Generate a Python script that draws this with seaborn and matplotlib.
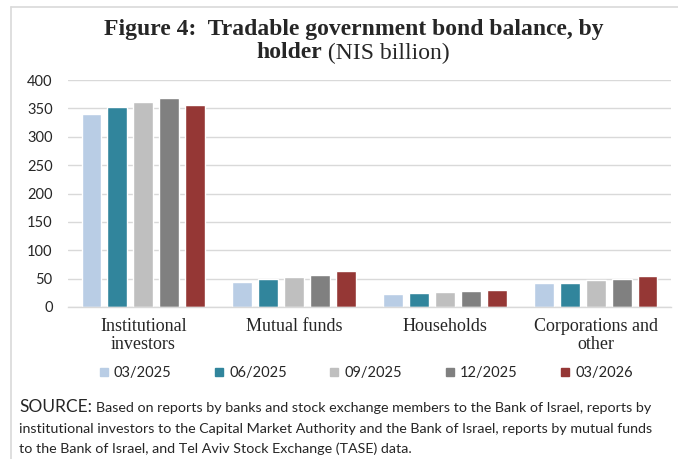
import matplotlib
matplotlib.use("Agg")
import matplotlib.pyplot as plt
import seaborn as sns
import pandas as pd
from matplotlib.lines import Line2D

categories = ["Institutional\ninvestors", "Mutual funds", "Households", "Corporations and\nother"]
periods = ["03/2025", "06/2025", "09/2025", "12/2025", "03/2026"]
v_0325 = [340, 44, 23.5, 41.5]
v_0625 = [353, 50, 24.5, 41.5]
v_0925 = [362, 53, 26, 47]
v_1225 = [368, 57, 27.5, 49]
v_0326 = [356, 63, 29.5, 55]
colors = ["#B9CDE5", "#31859C", "#BFBFBF", "#808080", "#953735"]

series = [v_0325, v_0625, v_0925, v_1225, v_0326]
rows = []
for p, vals in zip(periods, series):
    for c, v in zip(categories, vals):
        rows.append({"holder": c, "period": p, "value": v})
df = pd.DataFrame(rows)

sns.set_theme(style="white")
fig = plt.figure(figsize=(6.78, 4.59), dpi=100)
W, H = 678, 459
ax = fig.add_axes([68 / W, 1 - 307 / H, (671 - 68) / W, (307 - 80) / H])

sns.barplot(data=df, x="holder", y="value", hue="period", order=categories,
            hue_order=periods, palette=colors, width=0.86, gap=0.23,
            saturation=1, ax=ax, legend=True)

ax.get_legend().remove()

ax.set_ylim(0, 400)
ax.set_yticks(range(0, 401, 50))
ax.set_xlim(-0.5, 3.5)
ax.set_xlabel("")
ax.set_ylabel("")
ax.yaxis.grid(True, color="#D9D9D9", linewidth=1.0)
ax.set_axisbelow(True)
for s in ["top", "right", "left"]:
    ax.spines[s].set_visible(False)
ax.spines["bottom"].set_color("#D9D9D9")
ax.spines["bottom"].set_linewidth(1.0)

ax.tick_params(axis="y", length=0, pad=11, labelsize=10.5)
for t in ax.get_yticklabels():
    t.set_fontfamily("Lato")
ax.set_xticks(range(len(categories)))
ax.set_xticklabels(categories, fontfamily="Liberation Serif", fontsize=13,
                   linespacing=1.05)
ax.tick_params(axis="x", length=0, pad=8)
ax.set_xticks([-0.5, 0.5, 1.5, 2.5, 3.5], minor=True)
ax.tick_params(axis="x", which="minor", length=6, color="#D9D9D9", width=1, direction="out")

# Title
TS = 17
fig.text(354 / W, 1 - 29 / H, "Figure 4:  Tradable government bond balance, by",
         ha="center", va="center", fontfamily="Liberation Serif",
         fontweight="bold", fontsize=TS)
fig.text(322 / W, 1 - 53 / H, "holder", ha="right", va="center",
         fontfamily="Liberation Serif", fontweight="bold", fontsize=TS)
fig.text(322 / W, 1 - 53 / H, " (NIS billion)", ha="left", va="center",
         fontfamily="Liberation Serif", fontsize=TS)

# Legend
sq_handles = [Line2D([0], [0], marker="s", color="none", markerfacecolor=c,
                     markeredgecolor=c, markersize=5.5) for c in colors]
fig.legend(sq_handles, periods, loc="center", ncol=5,
           bbox_to_anchor=(366 / W, 1 - 373 / H), frameon=False,
           handlelength=0.6, handletextpad=0.4, columnspacing=2.95,
           prop={"family": "Lato", "size": 10.5})

# Source
fig.text(19 / W, 1 - 407 / H, "SOURCE:", ha="left", va="center",
         fontfamily="Lato", fontsize=12.5)
fig.text(96 / W, 1 - 408 / H,
         "Based on reports by banks and stock exchange members to the Bank of Israel, reports by",
         ha="left", va="center", fontfamily="Lato", fontsize=10.3)
fig.text(19 / W, 1 - 429 / H,
         "institutional investors to the Capital Market Authority and the Bank of Israel, reports by mutual funds",
         ha="left", va="center", fontfamily="Lato", fontsize=10.3)
fig.text(19 / W, 1 - 449 / H,
         "to the Bank of Israel, and Tel Aviv Stock Exchange (TASE) data.",
         ha="left", va="center", fontfamily="Lato", fontsize=10.3)

# Frame lines
fig.add_artist(Line2D([11 / W, 1], [1 - 7 / H, 1 - 7 / H], color="#D9D9D9", lw=1.2,
                      transform=fig.transFigure))
fig.add_artist(Line2D([11 / W, 11 / W], [0, 1 - 7 / H], color="#D9D9D9", lw=1.2,
                      transform=fig.transFigure))

fig.savefig("out.png", dpi=100)
